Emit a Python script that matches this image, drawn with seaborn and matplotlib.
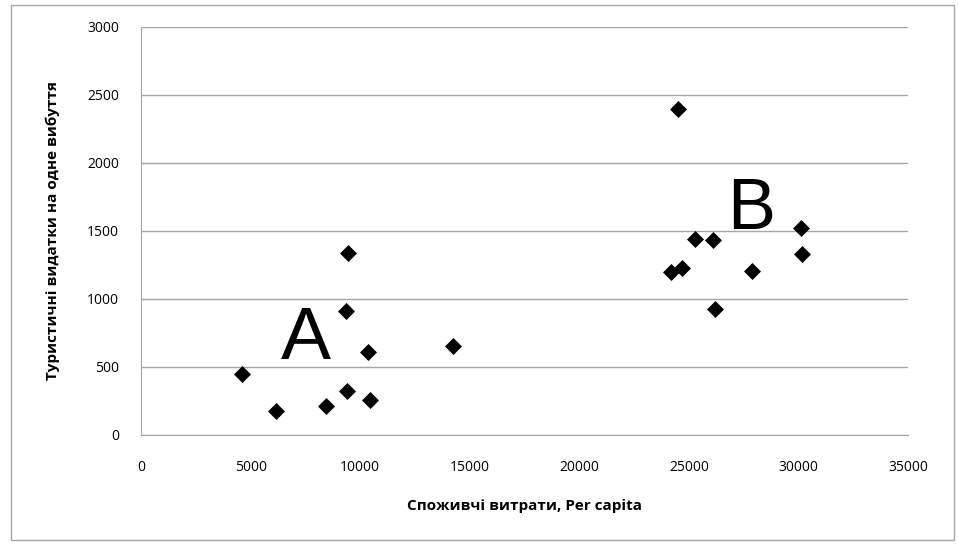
import pandas as pd
import seaborn as sns
import matplotlib.pyplot as plt
from matplotlib.patches import Rectangle

# values
spending = [4600, 6150, 8450, 9400, 10450, 10350, 9350, 9450, 14250,
            24500, 25300, 26100, 24200, 24700, 27900, 26200, 30100, 30150]
tourist = [450, 180, 210, 325, 260, 610, 910, 1340, 655,
           2400, 1440, 1435, 1195, 1225, 1205, 925, 1520, 1330]
x_ticks = [0, 5000, 10000, 15000, 20000, 25000, 30000, 35000]
y_ticks = [0, 500, 1000, 1500, 2000, 2500, 3000]

df = pd.DataFrame({'spend': spending, 'tour': tourist})

sns.set_style('white')
plt.rcParams['font.family'] = ['Open Sans', 'DejaVu Sans']

fig = plt.figure(figsize=(9.58, 5.44), dpi=100)
ax = fig.add_axes([0.1472, 0.2004, 0.8006, 0.75])

sns.scatterplot(data=df, x='spend', y='tour', marker='D', s=75,
                color='black', edgecolor='black', linewidth=0, ax=ax)

ax.set_xlim(0, 35000)
ax.set_ylim(0, 3000)
ax.set_xticks(x_ticks)
ax.set_yticks(y_ticks)
ax.tick_params(axis='both', labelsize=10, length=0, colors='black')
ax.tick_params(axis='y', pad=16)
ax.tick_params(axis='x', pad=18)
ax.yaxis.grid(True, color='#a6a6a6', linewidth=1)
ax.set_axisbelow(True)
for side in ['top', 'right']:
    ax.spines[side].set_visible(False)
for side in ['left', 'bottom']:
    ax.spines[side].set_color('#a6a6a6')

ax.set_xlabel('Споживчі витрати, Per capita', fontsize=11, fontweight='bold',
              labelpad=17, color='black')
ax.set_ylabel('Туристичні видатки на одне вибуття', fontsize=11,
              fontweight='bold', labelpad=19, color='black')

# cluster labels
ax.text(7500, 700, 'A', fontsize=54, ha='center', va='center',
        family='Liberation Sans', color='black')
ax.text(27850, 1650, 'B', fontsize=52, ha='center', va='center',
        family='Liberation Sans', color='black')

fig.patches.append(Rectangle((0.011, 0.008), 0.985, 0.982, transform=fig.transFigure,
                             fill=False, edgecolor='#a6a6a6', linewidth=1))

fig.savefig('out.png', dpi=100)
